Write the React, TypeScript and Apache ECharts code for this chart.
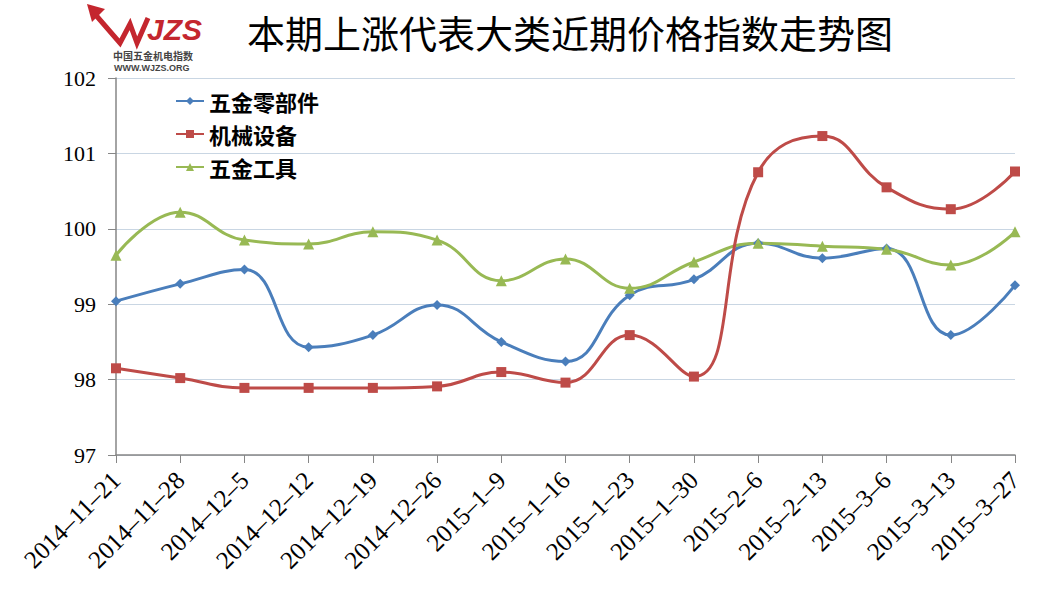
import React, { useEffect, useRef } from "react";
import * as echarts from "echarts";

const categories = [
  "2014–11–21", "2014–11–28", "2014–12–5", "2014–12–12", "2014–12–19", "2014–12–26",
  "2015–1–9", "2015–1–16", "2015–1–23", "2015–1–30", "2015–2–6", "2015–2–13",
  "2015–3–6", "2015–3–13", "2015–3–27",
];
const seriesNames = ["五金零部件", "机械设备", "五金工具"];
const partsValues = [99.04, 99.27, 99.46, 98.43, 98.59, 98.99, 98.5, 98.24, 99.12, 99.33, 99.81, 99.61, 99.74, 98.59, 99.25];
const machineryValues = [98.15, 98.02, 97.89, 97.89, 97.89, 97.91, 98.1, 97.96, 98.59, 98.04, 100.75, 101.23, 100.55, 100.26, 100.76];
const toolsValues = [99.65, 100.22, 99.85, 99.8, 99.96, 99.85, 99.31, 99.6, 99.21, 99.56, 99.81, 99.77, 99.73, 99.52, 99.96];
const colors = ["#4a7ebb", "#be4b48", "#98b954"];
const symbols = ["diamond", "rect", "triangle"];
const symbolSizes = [10, 10, 11];

export default function App() {
  const ref = useRef<HTMLDivElement>(null);
  useEffect(() => {
    if (!ref.current) return;
    const chart = echarts.init(ref.current, null, { renderer: "svg" });
    const dataSets = [partsValues, machineryValues, toolsValues];
    chart.setOption({
      animation: false,
      backgroundColor: "#ffffff",
      title: {
        text: "本期上涨代表大类近期价格指数走势图",
        left: 565,
        top: 7,
        textAlign: "center",
        textStyle: { fontFamily: "Noto Sans CJK SC", fontSize: 38, fontWeight: "normal", color: "#000" },
      },
      legend: {
        orient: "vertical",
        left: 170,
        top: 85,
        itemGap: 11,
        itemWidth: 28,
        itemHeight: 10,
        data: seriesNames,
        textStyle: { fontFamily: "Noto Sans CJK SC", fontSize: 22, color: "#000", fontWeight: "bold" },
      },
      grid: { left: 116, right: 42, top: 78, bottom: 147, containLabel: false },
      xAxis: {
        type: "category",
        data: categories,
        boundaryGap: false,
        axisLine: { lineStyle: { color: "#868686", width: 1.5 } },
        axisTick: { show: true, length: 8, lineStyle: { color: "#868686" } },
        axisLabel: {
          rotate: 45,
          interval: 0,
          fontFamily: "Liberation Serif",
          fontSize: 25,
          color: "#000",
          margin: 21,
        },
        splitLine: { show: false },
      },
      yAxis: {
        type: "value",
        min: 97,
        max: 102,
        interval: 1,
        axisLine: { show: true, lineStyle: { color: "#868686", width: 1.5 } },
        axisTick: { show: true, length: 8, lineStyle: { color: "#868686" } },
        axisLabel: { fontFamily: "Liberation Serif", fontSize: 22, color: "#000", margin: 20 },
        splitLine: { lineStyle: { color: "#c9d6e3", width: 1 } },
      },
      series: seriesNames.map((name, i) => ({
        name,
        type: "line",
        data: dataSets[i],
        smooth: 0.45,
        symbol: symbols[i],
        symbolSize: symbolSizes[i],
        showSymbol: true,
        lineStyle: { color: colors[i], width: 3 },
        itemStyle: { color: colors[i] },
        z: i === 1 ? 3 : 2,
      })),
      graphic: [
        {
          type: "polyline",
          shape: { points: [[94, 13], [120, 43], [130, 24], [137, 43], [148, 18]] },
          style: { stroke: "#c4262e", lineWidth: 5, fill: "none", lineJoin: "miter" },
        },
        {
          type: "polygon",
          shape: { points: [[87, 4], [105, 9], [92, 22]] },
          style: { fill: "#c4262e" },
        },
        {
          type: "text",
          x: 147,
          y: 14,
          style: {
            text: "JZS",
            fill: "#c4262e",
            font: "italic bold 30px 'Liberation Sans'",
          },
        },
        {
          type: "text",
          x: 113,
          y: 50,
          style: { text: "中国五金机电指数", fill: "#444", font: "bold 10px 'Noto Sans CJK SC'" },
        },
        {
          type: "text",
          x: 114,
          y: 63,
          style: { text: "WWW.WJZS.ORG", fill: "#444", font: "bold 9px 'Liberation Sans'" },
        },
      ],
    });
    return () => chart.dispose();
  }, []);
  return <div ref={ref} style={{ position: "fixed", left: 0, top: 0, width: 1057, height: 602 }} />;
}
